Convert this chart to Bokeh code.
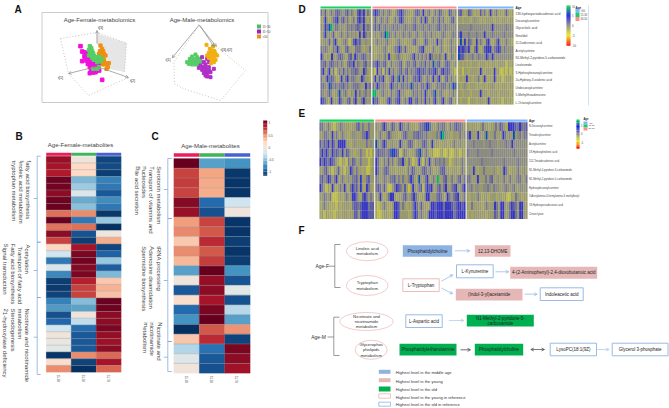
from bokeh.plotting import figure
from bokeh.embed import file_html
from bokeh.resources import INLINE
from bokeh.core.properties import value
from bokeh.models import Arrow, OpenHead

# ---------- DATA ----------
female_rows = [
 [.87,.03,-.92],[.83,.2,-.9],[.8,.2,-.95],[.98,-.45,-.68],[.97,-.37,-.72],[.9,-.12,-.85],[.98,-.5,-.62],[.99,-.42,-.72],
 [.55,.47,-.97],[.99,-.72,-.38],[.54,.55,-1],[.9,-.87,.02],[.68,-.95,.37],[.22,.83,-.92],[-.2,.95,-.82],[-.72,.97,-.38],
 [-.15,.92,-.83],[-.65,.95,-.45],[-.95,.78,.27],[-.96,.68,.35],[-.93,.68,.3],[-.68,-.43,.99],[-.57,-.54,.98],[-.88,.03,.9],
 [-.8,-.25,.9],[-.2,-.77,.95],[.03,-.85,.88],[-.02,-.85,.86],[-.08,-.85,.9],[-.98,.47,.57],[.16,-.93,.83],[.47,-1,.58]]
male_rows = [
 [1,-.55,-.6],[.68,.4,-.97],[.7,.38,-.98],[.68,.37,-.98],[.92,-.78,-.2],[.87,-.88,.03],[.42,.68,-.98],[.48,.62,-.98],
 [.27,.75,-.95],[.47,.62,-.98],[.33,.7,-.95],[-.55,1,-.6],[.03,.88,-.87],[-.85,.9,-.08],[.15,.83,-.88],[-.78,.95,-.28],
 [-.6,1,-.55],[-1,.62,.45],[.28,.75,-.93],[-.3,-.75,.95],[-.1,-.85,.9],[.05,-.88,.85]]
age_groups = ["15-30", "31-50", "51-70"]
cbar_ticks = ["1", "0.5", "0", "-0.5", "-1"]

d_labels = ["13S-hydroxyoctadecadienoic acid","Decanoylcarnitine","Glycocholic acid","Nerolidol","11-Dodecenoic acid","Acetylcysteine",
 "N1-Methyl-2-pyridone-5-carboxamide","Linoleamide","3-Hydroxyhexanoylcarnitine","2a-Hydroxy-3-oxolenic acid","Undecanoylcarnitine",
 "5-Methylthioadenosine","L-Octanoylcarnitine"]
e_labels = ["N-Decanoylcarnitine","Tetradecylcarnitine","Acetylcarnitine","18-Hydroxylinolenic acid","11Z-Tetradecadienoic acid",
 "N1-Methyl-4-pyridone-3-carboxamide","N1-Methyl-2-pyridone-5-carboxamide","Hydroxydecanoylcarnitine",
 "3-Acetylamino-4-formylamino-3-methylbutyl","18-Hydroxyoctadecanoic acid","Citrate lyase"]

code_values = {'Y':-2.8,'y':-1.6,'o':-0.95,'g':-0.25,'p':0.7,'b':1.8,'B':3.4,'t':6.5,'G':9}
d_rows = [
 ("pobyopopbpgopbopoybBpBopo","pBbpopogpoyopbBpgooyopbpoBogpyopobpooybpog","pboyobpoyoybopyoBoopyoyoboyo"),
 ("ooBoyopbBopbopyopybBpBoyo","oboopgopoyopobBpooyogpooboBpyopogbopyoopbo","ooyoooyogooyoyooooyooyoooyoo"),
 ("goBptGoppogoopgpgpbpgBgpg","gbgbggpgggpgpgggpgggpbgggpggpgggpbggpggggg","ggggggpggggggggggBggggggpggg"),
 ("ogBogobyoopoopogogyBoBpog","ogoopgtGpgopogopgopgogpoogpgopogoogpgoogpg","pBgggpgggpgggBgggpgggggpgggg"),
 ("oogobypBoyogpoYobBpboogoo","oopogogpooyogpooyooopbooyobpoogoBopoyoopoo","otoBobpoyBopoybBoyopBooopooy"),
 ("pgpgoypgBgoypbooypppoyoop","oyooogpoyooppBpoboooyoopbBoooypooopoyoopog","BbBbpBoypBoyobBBBopbBbopgggg"),
 ("Bgyoy Boopbpoypbo Bpgpbpog","oyogoopoBoyogpooyoogpBopopopoBpogopooBoypgo","tbbgoggpogpgggBpgBgggggggggg"),
 ("ppbopbpgpopoypbpBopgopbog","ppBpgpboypoggpbyoppopbogpgbopotgpboopbpoog","yoyoyoyoooyoooyoyooyooooYoyo"),
 ("pBogBypYopobopoppbpooBpoy","oYBopYpoBopogpbopbopgpbBpbpgbpbBpobBpbpooY","yoYooyooooyBoyoooyBooYYyYoYy"),
 ("pogBpbpoyoBopBoppgooBpooy","oBobpBoygpBoptoBopoopbpBpoopgoBopBoypbopoo","yoyoBooyoopyoBoyoyBoyoYyoooy"),
 ("ppgotbgpgppbgpogpppgooBgp","pgBpgpgogBpgpoppgpgtpgpoppgBpgoopgpppopgtb","oyogoyoooyoyooyoogoyoyoooyoo"),
 ("pgogbgyogtogpoygoBopogpog","GGoogpogypogpBogoyoopgpopoBgogptogpooygopo","ooyoooyooooBoooyooooyoooooyo"),
 ("BbpoyBoooBpoopbypBoopBgoo","Bpbo yoopBpopbBoopoBBopbopoBopypBoopBoopbyo","oyoooYoooyoooyoBoyooyoYooyoy"),
]
e_rows = [
 ("ppoopoyYoopgoooyoopbopoopoo","goopBpoobpooBpgopoooyoppbBtpooopgppoypopbppgo","oyoooyopooyoopobpoyBBBbpBppb"),
 ("ooppgoBopoopooyoggoooppBpoo","oopoogbgoooyopbgooppbppgpoooopgtGgooyooopog","pBoooBoogtooopoooBpogotogpopp"),
 ("bgbpBgBpoBBBBooyogooooopogo","tgopBpoogoooBgoopbpoygopbpooBoooyoooyoopoogoo","gggpggggoggpgggogggpggBggggggg"),
 ("pBpBpgBpbpgBobpooyoopooYyYo","pbpppgpbtBbpYypgoyoopbtgopoyoYYYyoYYoYYyoyYoy","pggggpggggggpggggggggggpgggggg"),
 ("BpBbpBbpoyYoyYpobpoopoooYyo","Bpoypobopyo ppBoypoYyoBoYpoBoopgpgpooYyogoopo","gggggggpggggggggggpggggggpgggg"),
 ("oopbooYoobyoYooBpopooyoYYyo","Bpoopbpoooyooooypobpooopbpopoyoopbbooyoooyopo","ogoBoyoopoooogoyooBpoyooopoogo"),
 ("pbgpBbopBoopoogoppboBoopboo","pgoopgoppbopopoopBpootoopBoopoGoopboopoopbop","ppoooBooopopboogoopoopoogppoop"),
 ("BpoYoyBoyopoBoypBpboBoyBpoy","pbpoboYYopBbpoboYoBoopbYpBbBoopbopBoopbBoopB","ggpoggooggpgopggoogpgogpooggog"),
 ("oopgopYYYyoyopooBBpoybBpopo","ooBoyopBBoyoopboopBpoyooBBooopbpoyBpopbBoop","oyooopoyooyoooyooyoYYoypooyoo"),
 ("yopooyyyYoyooooypbbpbBBBpbb","yYyopoyyoBBbopoyoopBpobooyoBBbBBBpBBBbpbBBbB","oypooooyopoooBpoBBoopBbpoBBoo"),
 ("yoYoyyyYyoyoooyoobbobBBBbbb","yYYyooyyoBBbooooyopBbopoooBBBbBBBbBBBBpbBBBB","yoyooooooyooobpoBBoopBBpoBBoo"),
]
# score-plot points (panel units)
f_mid_x = [90,95,100,107,102,110,118,95,108,115,125,130,138,112,120,128,138,147,118,125,132,140,122,130,140,118,128,135,146,155,105,112,120,148,136,125]
f_mid_y = [77,93,95,97,108,105,110,122,120,118,118,122,118,130,128,132,130,128,140,142,140,138,150,150,148,158,156,155,150,178,110,112,122,118,145,135]
f_yng_x = [118,122,115,125,118,128,122,130,115,125,135,140,130,145,140,150,155,128,140,145,122]
f_yng_y = [77,85,88,92,97,98,105,105,105,112,110,112,118,108,125,122,115,145,145,140,82]
f_old_x = [150,155,148,158,152,145,160,150,158,165,152,160,155,165,158,170,172,168,160,175]
f_old_y = [75,85,92,92,100,100,100,108,108,105,115,118,125,128,132,133,140,145,122,128]
m_yng_x = [135,125,140,118,128,138,148,110,120,130,140,150,125,115,135,145,155]
m_yng_y = [102,108,110,115,115,118,115,125,125,125,125,122,132,130,132,130,125]
m_mid_x = [155,170,160,175,150,165,158,145,165,175,190,155,165,175,160,170,180,170,180,190,165]
m_mid_y = [110,115,125,125,135,132,140,142,142,140,145,148,150,150,158,158,155,168,170,120,165]
m_old_x = [168,178,185,175,185,195,180,190,200,175,185,195,190,182,170,188,192]
m_old_y = [73,85,90,97,100,100,105,108,105,112,115,118,125,128,105,78,92]

FONT = value("Liberation Sans")
p = figure(width=669, height=408, x_range=(0, 669), y_range=(408, 0), output_backend="svg", toolbar_location=None,
           min_border=0, outline_line_color=None, background_fill_color="white", border_fill_color="white")
p.axis.visible = False
p.grid.visible = False
p.xaxis.visible = False
p.yaxis.visible = False


def txt(x, y, s, size=6, color="#444444", align="left", base="middle", angle=0, style="normal"):
    p.text(x=[x], y=[y], text=[s], text_font=FONT, text_font_size=f"{size}px", text_color=color,
           text_align=align, text_baseline=base, angle=angle, text_font_style=style)


def hexrgb(h):
    return tuple(int(h[i:i + 2], 16) for i in (1, 3, 5))


def ramp(v, stops):
    for (a, ca), (b, cb) in zip(stops, stops[1:]):
        if v <= b:
            t = max(0, (v - a) / (b - a))
            A, B = hexrgb(ca), hexrgb(cb)
            return "#%02x%02x%02x" % tuple(round(A[i] + (B[i] - A[i]) * t) for i in range(3))
    return stops[-1][1]


RDBU = [(-1, "#053061"), (-.8, "#2166ac"), (-.6, "#4393c3"), (-.4, "#92c5de"), (-.2, "#d1e5f0"), (0, "#ece6e0"),
        (.2, "#fddbc7"), (.4, "#f4a582"), (.6, "#d6604d"), (.8, "#b2182b"), (1, "#67001f")]
EXPR = [(-10, "#ff0000"), (-5, "#e8e810"), (0, "#868686"), (5, "#1010e0"), (10, "#00e040")]


def rect(x0, y0, x1, y1, fill=None, line=None, lw=0.8):
    p.quad(left=[x0], right=[x1], top=[y0], bottom=[y1], fill_color=fill, line_color=line, line_width=lw,
           fill_alpha=1 if fill else 0)


def seg(xs, ys, color="#7aa0d8", lw=0.7, dash="solid"):
    p.line(xs, ys, line_color=color, line_width=lw, line_dash=dash)


def arrow(x0, y0, x1, y1, color="#8db3e2", both=False):
    a = Arrow(end=OpenHead(size=3, line_color=color, line_width=.7), x_start=x0, y_start=y0, x_end=x1, y_end=y1,
              line_color=color, line_width=.7,
              start=OpenHead(size=3, line_color=color, line_width=.7) if both else None)
    p.add_layout(a)


# ---------- panel letters ----------
for s, x, y in [("A", 14, 9), ("B", 15, 136), ("C", 151, 136), ("D", 298, 9), ("E", 298, 113), ("F", 298, 230)]:
    txt(x, y, s, size=10, color="#111111", style="bold")

# ---------- A ----------
rect(41.5, 12, 267.5, 102, fill="white", line="#cccccc", lw=1)
txt(99, 19.5, "Age-Female-metabolomics", align="center")
txt(201.5, 19.5, "Age-Male-metabolomics", align="center")
p.patch([96.3, 126, 124, 107, 96.3], [33, 42.5, 71.5, 68, 43], fill_color="#e6e6e6", line_color=None)
fx = lambda a: [50 + v / 3 for v in a]
fy = lambda a: [20 + v / 3 for v in a]
mx = lambda a: [150 + v / 3 for v in a]
seg([60, 96.5, 126, 124], [38, 32, 42.5, 72], "#aaaaaa", .7, "1 2")
seg([60, 68, 88, 128], [38, 73, 95, 77], "#aaaaaa", .7, "1 2")
arrow(96.5, 66, 68, 73, "#888888")
arrow(96.5, 66, 128, 77, "#888888")
arrow(96.5, 43, 96.5, 30, "#888888")
txt(100, 27, "t[3]", 3.6, "#333333", "center")
txt(60, 77.5, "t[1]", 3.6, "#333333", "center")
txt(132, 80, "t[2]", 3.6, "#333333", "center")
p.scatter(fx(f_mid_x), fy(f_mid_y), marker="square", size=3.6, color="#f010dc")
p.scatter(fx(f_old_x), fy(f_old_y), marker="square", size=3.2, color="#ee8f12")
p.scatter(fx(f_yng_x), fy(f_yng_y), marker="square", size=3.2, color="#55cf62")
seg([198.3, 173.3, 174, 183.3, 220, 245, 216.7], [25, 61.7, 83.3, 88.3, 100, 70, 46.7], "#aaaaaa", .7, "1 2")
arrow(198.3, 25, 171.7, 57.3, "#888888")
arrow(198, 24, 216, 46, "#888888")
arrow(199.5, 25, 213.3, 46, "#888888")
txt(167.5, 59.5, "t[1]", 3.6, "#333333", "center")
txt(226, 49, "t[3],t[2]", 3.6, "#333333", "center")
p.scatter(mx(m_yng_x), fy(m_yng_y), marker="square", size=3, color="#56cc66")
p.scatter(mx(m_mid_x), fy(m_mid_y), marker="square", size=3, color="#b030c8")
p.scatter(mx(m_old_x), fy(m_old_y), marker="square", size=3, color="#f0b010")
for yy, c, s in zip([26, 31, 36], ["#4ac060", "#a020c0", "#f09020"], ["15~30", "31~50", ">50"]):
    rect(256.5, yy - 2, 260.5, yy + 2, fill=c)
    txt(262, yy, s, 2.8, "#444444")


# ---------- B, C ----------
def heat(rows, x0, x1, y0, y1, bar0, bar1):
    n = len(rows)
    cw, rh = (x1 - x0) / 3, (y1 - y0) / n
    for c, col in enumerate(["#ee1c58", "#3db558", "#4c5fd0"]):
        rect(x0 + c * cw, bar0, x0 + (c + 1) * cw, bar1, fill=col)
    L, R, T, Bt, C = [], [], [], [], []
    for r, row in enumerate(rows):
        for c, v in enumerate(row):
            L.append(x0 + c * cw); R.append(x0 + (c + 1) * cw)
            T.append(y0 + r * rh); Bt.append(y0 + (r + 1) * rh)
            C.append(ramp(v, RDBU))
    p.quad(left=L, right=R, top=T, bottom=Bt, fill_color=C, line_color=C, line_width=.2)
    for r in range(1, n):
        seg([x0, x1], [y0 + r * rh] * 2, "#999999", .4)
    for c, s in enumerate(age_groups):
        txt(x0 + (c + .5) * cw, y1 + 2.5, s, 2.8, "#555555", "left", "middle", -1.5708)


heat(female_rows, 45.7, 120.7, 155.7, 371.7, 152.3, 155.2)
heat(male_rows, 173.3, 249.7, 158, 372.7, 152.7, 156.3)
txt(80, 144, "Age-Female-metabolites", align="center")
txt(210, 145.5, "Age-Male-metabolites", align="center")


def brace(x, ends, mids, out, tick):
    for a, b, m in zip(ends, ends[1:], mids):
        seg([x + tick, x, x, x + tick], [a, a, b, b])
        seg([x, x + out], [m, m])


brace(36.7, [155.7, 241.7, 297, 374], [198, 270, 336.7], -3.5, 3.5)
brace(167.3, [158, 218, 341, 371], [189, 280, 356.7], -4, 4)
ROT = -1.5708
for s, x, y in [("fatty acid biosynthesis", 28, 160), ("linoleic acid metabolism", 21, 160), ("tryptophan metabolism", 13.5, 160),
                ("Acetylation", 27, 244), ("Transport of fatty acid", 19.5, 246), ("Fatty acid biosynthesis", 12.7, 243),
                ("Signal transduction", 5, 243), ("Nicotinate and nicotinamide", 26.7, 308), ("metabolism", 19.3, 308),
                ("Steroidogenesis", 12.3, 308), ("21-hydroxylase deficiency", 5, 308),
                ("Serotonin metabolism", 158.3, 165.7), ("Transport of vitamins and", 151, 165.7), ("nucleosides", 144, 165.7),
                ("Bile acid secretion", 137, 165.7), ("tRNA processing", 158.3, 245.7), ("Adenosine deamidation", 151, 245.7),
                ("Spermidine biosynthesis", 143.5, 245.7), ("Nicotinate and", 159, 321.7), ("nicotinamide", 151.5, 321.7),
                ("metabolism", 145, 321.7)]:
    txt(x, y, s, 6, "#444444", "left", "middle", ROT)

# color bar
N = 40
for i in range(N):
    v = 1 - 2 * (i + .5) / N
    c = ramp(v, RDBU)
    rect(262.7, 120 + i * 55 / N, 266.7, 120 + (i + 1) * 55 / N + .2, fill=c)
for s, y in zip(cbar_ticks, [122, 135, 147, 159, 170.7]):
    txt(268, y, s, 3, "#444444")


# ---------- D, E ----------
def cells(rows, segs, y0, y1, gapcolor="#e6e6d6"):
    rh = (y1 - y0) / len(rows)
    rect(segs[0][0], y0, segs[-1][1], y1, fill=gapcolor)
    L, R, T, Bt, C = [], [], [], [], []
    for r, row in enumerate(rows):
        for (a, b), st in zip(segs, row):
            st = st.replace(" ", "")
            w = (b - a) / len(st)
            for i, ch in enumerate(st):
                L.append(a + i * w); R.append(a + (i + 1) * w)
                T.append(y0 + r * rh); Bt.append(y0 + (r + 1) * rh)
                C.append(ramp(code_values[ch], EXPR))
    p.quad(left=L, right=R, top=T, bottom=Bt, fill_color=C, line_color=None)


GREEN, PINK, SKY = "#14d25a", "#ff8f8f", "#80b4ff"
d_segs = [(320, 370.5), (372, 456), (457.5, 513)]
e_segs = [(319, 373.5), (374.8, 465), (466.3, 527)]
for (a, b), c in zip(d_segs, [GREEN, PINK, SKY]):
    rect(a, 6, b, 8, fill=c)
for (a, b), c in zip(e_segs, [GREEN, PINK, SKY]):
    rect(a, 119, b, 121.3, fill=c)
cells(d_rows, d_segs, 8.7, 104)
cells(e_rows, e_segs, 121.7, 218.5)
txt(515, 7, "Age", 3.2, "#222222", style="bold")
txt(528.5, 120, "Age", 3, "#222222", style="bold")
for i, s in enumerate(d_labels):
    txt(515, 12.7 + i * 7.42, s, 3, "#444444")
for i, s in enumerate(e_labels):
    txt(528.5, 126 + i * 8.8, s, 2.6, "#444444")
for i in range(N):
    v = 10 - 20 * (i + .5) / N
    c = ramp(v, EXPR)
    rect(566, 5 + i, 570, 6.2 + i, fill=c)
    rect(576, 119 + i * 29 / N, 579, 119 + (i + 1) * 29 / N + .2, fill=c)
for s, y in zip(["10", "5", "0", "-5", "-10"], [5.7, 15, 25, 35, 44.3]):
    txt(571.5, y, s, 2.8, "#444444")
for s, y in zip(["5", "0", "-5"], [125, 133, 142]):
    txt(580.5, y, s, 2.6, "#444444")
txt(575, 7, "Age", 3, "#222222", style="bold")
for y, c, s in zip([8.5, 12.5, 16.5], [SKY, GREEN, PINK], [">50", "15-30", "30-50"]):
    rect(575, y, 579, y + 4, fill=c)
    txt(580, y + 2, s, 2.6, "#444444")
txt(583, 119, "Age", 2.6, "#222222", style="bold")
for y, c, s in zip([121, 124, 127], [SKY, GREEN, PINK], [">50", "15-30", "30-50"]):
    rect(583, y, 587, y + 3, fill=c)
    txt(588, y + 1.5, s, 2.4, "#444444")
seg([588, 588], [5, 105], "#cfe0f5", 1)

# ---------- F ----------
DK = "#555555"
txt(321.7, 265.7, "Age-F", 5, "#333333", "center")
txt(318, 336.7, "Age-M", 5, "#333333", "center")
seg([340, 334.3, 334.3, 340], [244, 244, 287, 287], DK, .6)
seg([328, 334.3], [265.7, 265.7], DK, .6)
seg([339, 333.3, 333.3, 339], [316.7, 316.7, 355, 355], DK, .6)
seg([327, 333.3], [336.5, 336.5], DK, .6)
for cx, cy, rx, ry, lines in [
    (366.7, 250.7, 20.7, 9.5, ["Linoleic acid", "metabolism"]),
    (366.7, 285, 20.7, 10, ["Tryptophan", "metabolism"]),
    (366, 321, 26.7, 9, ["Nicotinate and", "nicotinamide", "metabolism"]),
    (370.7, 349.3, 16, 9.5, ["Glycerophos", "pholipids", "metabolism"]),
]:
    p.ellipse(x=[cx], y=[cy], width=[2 * rx], height=[2 * ry], fill_color="white", line_color="#f0bcbc", line_width=.8)
    for i, s in enumerate(lines):
        txt(cx, cy + (i - (len(lines) - 1) / 2) * 5.2, s, 4.2, "#333333", "center")

BLUE_F, PINK_F, GREEN_F, BL, PK = "#8db3e2", "#e5b8b7", "#00b050", "#8db3e2", "#eeb4b4"
for x0, y0, x1, y1, fill, line, lines in [
    (402.3, 244.7, 451.7, 256.3, BLUE_F, None, ["Phosphatidylcholine"]),
    (474.3, 244.7, 510, 256.3, PINK_F, None, ["12,13-DHOME"]),
    (402.3, 278.3, 438.7, 291, "#ffffff", PK, ["L-Tryptophan"]),
    (456, 264.3, 492.7, 277.3, "#ffffff", BL, ["L-Kynurenine"]),
    (509.7, 266.3, 596.7, 278.3, PINK_F, None, ["4-(2-Aminophenyl)-2,4-dioxobutanoic acid"]),
    (455.3, 288.3, 522, 300, PINK_F, None, ["(Indol-3-yl)acetamide"]),
    (539.7, 287.3, 582.7, 300, "#ffffff", BL, ["Indoleacetic acid"]),
    (405.3, 314.3, 441.7, 327, "#ffffff", BL, ["L-Aspartic acid"]),
    (466.3, 314.3, 533.3, 326, GREEN_F, None, ["N1-Methyl-2-pyridone-5-", "carboxamide"]),
    (399, 343.3, 456, 355, GREEN_F, None, ["Phosphatidylethanolamine"]),
    (474.3, 343.3, 522.7, 355, GREEN_F, None, ["Phosphatidylcholine"]),
    (549.7, 342.7, 596, 355.3, "#ffffff", BL, ["LysoPC(18:1(9Z)"]),
    (611.7, 342.7, 667.5, 355.3, "#ffffff", BL, ["Glycerol 3-phosphate"]),
]:
    rect(x0, y0, x1, y1, fill=fill, line=line, lw=.9)
    for i, s in enumerate(lines):
        txt((x0 + x1) / 2, (y0 + y1) / 2 + (i - (len(lines) - 1) / 2) * 5, s, 4.5, "#222222", "center")

arrow(454.3, 250.3, 469.3, 250.3)
arrow(441, 280.7, 452.3, 274.3)
arrow(441, 287.7, 452.3, 293.3)
arrow(495, 271.3, 508.3, 271.3)
arrow(524, 293.7, 536.7, 293.7)
arrow(448.3, 320, 463.3, 320, "#a9c6ea")
arrow(460, 349.3, 470, 349.3, "#333333")
arrow(530.3, 349, 544, 349, "#444444", both=True)
arrow(596.7, 349, 608.7, 349, "#a9c6ea")

for y0, y1, fill, line, s, ty in [
    (369.3, 373.3, BLUE_F, None, "Highest level in the middle age", 372.3),
    (377.7, 381.7, PINK_F, None, "Highest level in the young", 381),
    (386, 391, GREEN_F, None, "Highest level in the old", 388.7),
    (393.3, 397.7, "#ffffff", PK, "Highest level in the young in reference", 397),
    (401.7, 405.7, "#ffffff", BL, "Highest level in the old in reference", 403.7),
]:
    rect(378.3, y0, 390, y1, fill=fill, line=line, lw=.8)
    txt(395.3, ty, s, 4.1, "#333333")

open("out.html", "w").write(file_html(p, INLINE))
